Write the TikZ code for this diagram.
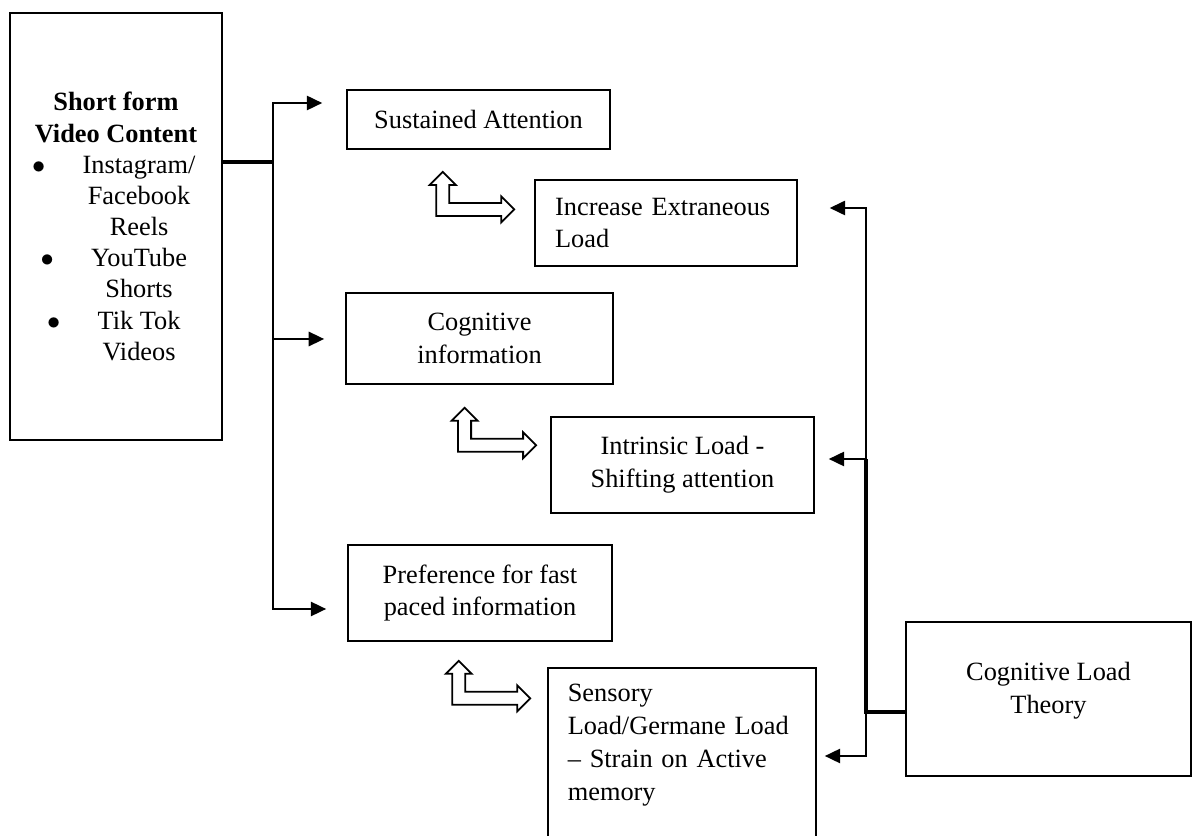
\documentclass[tikz,border=0pt]{standalone}
\usepackage{fontspec}
\setmainfont{Liberation Serif}
\usetikzlibrary{arrows.meta,calc}

\begin{document}
\begin{tikzpicture}[x=0.016cm, y=-0.016cm,
	box/.style={draw, line width=0.8pt, font=\fontsize{12pt}{15pt}\selectfont, align=center, inner sep=0pt},
	link/.style={line width=0.9pt, -{Triangle[length=7pt,width=6.5pt]}},
	trunk/.style={line width=1.6pt},
	bent/.style={draw, line width=0.8pt, fill=white, line join=miter}]
	\useasboundingbox (0,0) rectangle (1193,836);
	% boxes
	\node[box, minimum width=96.5pt, minimum height=194.4pt, font=\fontsize{12pt}{14.2pt}\selectfont] (src) at (116,226.5)
		{\textbf{Short form}\\ \textbf{Video Content}\\
		\hspace*{21pt}\llap{$\bullet$\hspace{17pt}}Instagram/\\ \hspace*{21pt}Facebook\\ \hspace*{21pt}Reels\\
		\hspace*{21pt}\llap{$\bullet$\hspace{17pt}}YouTube\\ \hspace*{21pt}Shorts\\
		\hspace*{21pt}\llap{$\bullet$\hspace{17pt}}Tik Tok\\ \hspace*{21pt}Videos};
	\node[box, minimum width=119.7pt, minimum height=26.9pt] (sus) at (478.5,119.5) {Sustained Attention};
	\node[box, minimum height=39.2pt, align=left, text width=101pt, inner xsep=9.1pt] (inc) at (666,223) {Increase Extraneous\\Load};
	\node[box, minimum width=121.6pt, minimum height=41.4pt] (cog) at (479.5,338.5) {Cognitive\\information};
	\node[box, minimum width=119.7pt, minimum height=43.7pt] (intr) at (682.5,465) {Intrinsic Load -\\Shifting attention};
	\node[box, minimum width=120.2pt, minimum height=43.7pt] (pref) at (480,593) {Preference for fast\\paced information};
	\node[box, minimum height=87.4pt, align=left, text width=104pt, inner xsep=9pt] (sens) at (682,764) {Sensory\\Load/Germane Load\\– Strain on Active\\memory\\ \strut};
	\node[box, minimum width=129.7pt, minimum height=70.1pt] (clt) at (1048.5,699) {Cognitive Load\\Theory\\[-9pt]\strut};
	% left fork
	\coordinate (lfork) at (273,162);
	\draw[trunk] (src.east |- lfork) -- (lfork);
	\draw[link] (lfork) |- ($(sus.west)+(-24,-16.5)$);
	\draw[link] (lfork) |- ($(cog.west)+(-21,0.5)$);
	\draw[link] (lfork) |- ($(pref.west)+(-21,16)$);
	% right fork
	\coordinate (rfork) at (866,712);
	\draw[trunk] (clt.west |- rfork) -- (rfork) -- ++(0,-253);
	\draw[link] (rfork) |- ($(inc.east)+(32,-15)$);
	\draw[link] (rfork) |- ($(intr.east)+(14,-6)$);
	\draw[link] (rfork) |- ($(sens.east)+(8,-8)$);
	% bent block arrows
	\draw[bent, shift={($(sus.south west)+(90,66)$)}] (0,0) -- (65,0) -- (65,6.5) -- (78,-6.5) -- (65,-19.5) -- (65,-13) -- (13,-13) -- (13,-31) -- (19.5,-31) -- (6.5,-44) -- (-6.5,-31) -- (0,-31) -- cycle;
	\draw[bent, shift={($(cog.south west)+(113,67)$)}] (0,0) -- (65,0) -- (65,6.5) -- (78,-6.5) -- (65,-19.5) -- (65,-13) -- (13,-13) -- (13,-31) -- (19.5,-31) -- (6.5,-44) -- (-6.5,-31) -- (0,-31) -- cycle;
	\draw[bent, shift={($(pref.south west)+(105,63)$)}] (0,0) -- (65,0) -- (65,6.5) -- (78,-6.5) -- (65,-19.5) -- (65,-13) -- (13,-13) -- (13,-31) -- (19.5,-31) -- (6.5,-44) -- (-6.5,-31) -- (0,-31) -- cycle;
\end{tikzpicture}
\end{document}
